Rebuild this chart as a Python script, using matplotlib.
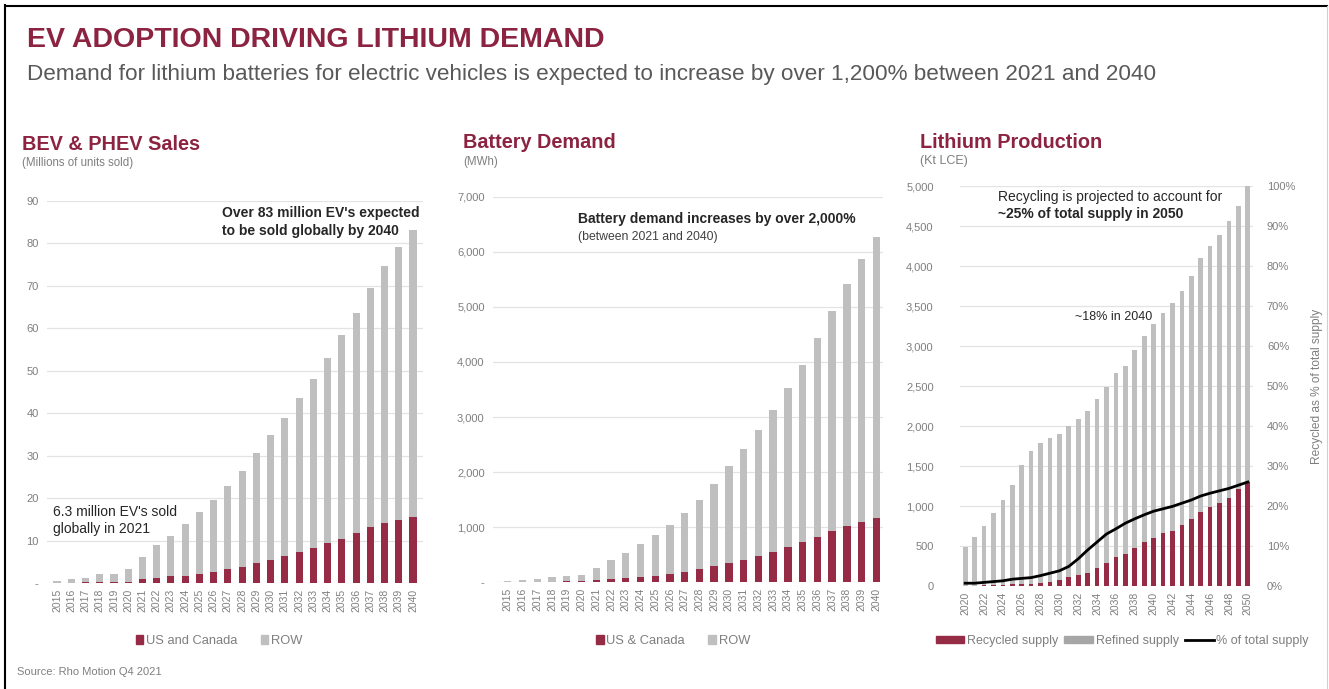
import numpy as np
import matplotlib
matplotlib.use("Agg")
import matplotlib.pyplot as plt
from matplotlib.patches import Patch
from matplotlib.lines import Line2D
from matplotlib.ticker import FuncFormatter

plt.rcParams['font.family'] = ['Liberation Sans', 'DejaVu Sans']

# BEV & PHEV sales (millions of units)
ev_years = list(range(2015, 2041))
ev_us = [0.1, 0.1, 0.2, 0.2, 0.3, 0.4, 1.0, 1.2, 1.6, 1.8, 2.2, 2.7, 3.3, 3.9, 4.7, 5.5,
         6.4, 7.4, 8.4, 9.4, 10.4, 11.8, 13.2, 14.3, 14.9, 15.5]
ev_row = [0.4, 0.8, 1.1, 1.9, 1.9, 2.9, 5.3, 7.7, 9.6, 12.2, 14.6, 17.0, 19.6, 22.6, 25.9, 29.5,
          32.6, 36.1, 39.6, 43.5, 48.0, 51.9, 56.3, 60.4, 64.3, 67.6]

# battery demand (MWh)
bat_years = list(range(2015, 2041))
bat_us = [3, 5, 8, 12, 15, 20, 42, 60, 85, 97, 115, 151, 194, 236, 290, 345,
          405, 478, 556, 635, 726, 829, 938, 1028, 1101, 1174]
bat_row = [22, 35, 52, 78, 100, 120, 224, 345, 441, 593, 744, 889, 1058, 1258, 1495, 1772,
           2021, 2287, 2572, 2886, 3219, 3600, 3987, 4387, 4767, 5100]

# lithium production (kt LCE)
li_years = list(range(2020, 2051))
li_refined = [492, 617, 750, 908, 1075, 1262, 1512, 1687, 1792, 1846, 1896, 2000, 2083, 2192, 2333, 2483,
              2658, 2750, 2950, 3129, 3275, 3417, 3542, 3692, 3875, 4096, 4250, 4383, 4562, 4750, 5000]
li_recycled = [5, 5, 8, 10, 15, 20, 25, 30, 40, 55, 75, 108, 137, 167, 220, 283,
               358, 400, 479, 554, 596, 658, 692, 762, 833, 929, 983, 1033, 1104, 1208, 1304]
li_pct = [0.7, 0.7, 0.9, 1.1, 1.3, 1.7, 1.9, 2.1, 2.6, 3.2, 3.8, 4.9, 6.8, 9.0, 11.0, 13.0,
          14.3, 15.7, 16.8, 17.8, 18.7, 19.3, 19.9, 20.7, 21.5, 22.5, 23.2, 23.8, 24.4, 25.2, 26.0]

RED = '#962B46'
GREY = '#BFBFBF'
TXT = '#7F7F7F'
DARK = '#262626'
TITLE = '#8C2340'
W, H = 1329, 689

fig = plt.figure(figsize=(W / 100, H / 100), dpi=100)

def fx(px):
    return px / W

def fy(py):
    return 1 - py / H

def style(ax):
    for s in ax.spines.values():
        s.set_visible(False)
    ax.tick_params(length=0, labelsize=8, labelcolor=TXT, pad=6)
    ax.tick_params(axis='x', labelsize=7.5, rotation=90, pad=4)
    ax.grid(axis='y', color='#E3E3E3', lw=0.9)
    ax.set_axisbelow(True)

dash0 = FuncFormatter(lambda v, p: '-' if v == 0 else f'{v:,.0f}')

# frame
fig.add_artist(Line2D([fx(5), fx(5)], [fy(5), fy(689)], color='black', lw=1.5))
fig.add_artist(Line2D([fx(5), fx(1327)], [fy(6), fy(6)], color='black', lw=1.5))
fig.add_artist(Line2D([fx(1327), fx(1327)], [fy(6), fy(689)], color='#D0D0D0', lw=0.8))

fig.text(fx(27), fy(47), 'EV ADOPTION DRIVING LITHIUM DEMAND', fontsize=20.5, fontweight='bold',
         color=TITLE, va='baseline')
fig.text(fx(27), fy(80), 'Demand for lithium batteries for electric vehicles is expected to increase by over 1,200% between 2021 and 2040',
         fontsize=16.2, color='#595959', va='baseline')

# ---- BEV & PHEV sales
ax1 = fig.add_axes([fx(47), fy(583.3), fx(423 - 47), (583.3 - 200.7) / H])
x = np.arange(len(ev_years))
ax1.bar(x, ev_us, 0.5, color=RED)
ax1.bar(x, ev_row, 0.5, bottom=ev_us, color=GREY)
ax1.set_xlim(-0.7, len(x) - 0.3)
ax1.set_ylim(0, 90)
ax1.set_yticks(range(0, 91, 10))
ax1.yaxis.set_major_formatter(dash0)
ax1.set_xticks(x, [str(y) for y in ev_years])
style(ax1)
ax1.text(0.465, 0.985, "Over 83 million EV's expected\nto be sold globally by 2040", transform=ax1.transAxes,
         fontsize=10, fontweight='bold', color=DARK, va='top', linespacing=1.3)
ax1.text(0.015, 0.205, "6.3 million EV's sold\nglobally in 2021", transform=ax1.transAxes,
         fontsize=10, color=DARK, va='top', linespacing=1.3)
ax1.legend(handles=[Patch(color=RED, label='US and Canada'), Patch(color=GREY, label='ROW')],
           loc='center', bbox_to_anchor=(fx(219), fy(641)), bbox_transform=fig.transFigure, ncol=2,
           frameon=False, fontsize=9.3, labelcolor=TXT, handlelength=0.6, handleheight=0.6,
           handletextpad=0.2, columnspacing=1.8)
fig.text(fx(22), fy(150), 'BEV & PHEV Sales', fontsize=14.3, fontweight='bold', color=TITLE, va='baseline')
fig.text(fx(22), fy(166), '(Millions of units sold)', fontsize=8.3, color=TXT, va='baseline')

# ---- battery demand
ax2 = fig.add_axes([fx(493), fy(582.3), fx(883 - 493), (582.3 - 196.7) / H])
x = np.arange(len(bat_years))
ax2.bar(x, bat_us, 0.5, color=RED)
ax2.bar(x, bat_row, 0.5, bottom=bat_us, color=GREY)
ax2.set_xlim(-1.0, len(x) - 0.55)
ax2.set_ylim(0, 7000)
ax2.set_yticks(range(0, 7001, 1000))
ax2.yaxis.set_major_formatter(dash0)
ax2.set_xticks(x, [str(y) for y in bat_years])
style(ax2)
ax2.text(0.218, 0.96, 'Battery demand increases by over 2,000%', transform=ax2.transAxes,
         fontsize=10, fontweight='bold', color=DARK, va='top')
ax2.text(0.218, 0.912, '(between 2021 and 2040)', transform=ax2.transAxes,
         fontsize=8.8, color='#404040', va='top')
ax2.legend(handles=[Patch(color=RED, label='US & Canada'), Patch(color=GREY, label='ROW')],
           loc='center', bbox_to_anchor=(fx(673), fy(641)), bbox_transform=fig.transFigure, ncol=2,
           frameon=False, fontsize=9.3, labelcolor=TXT, handlelength=0.6, handleheight=0.6,
           handletextpad=0.2, columnspacing=1.8)
fig.text(fx(463), fy(148), 'Battery Demand', fontsize=14.3, fontweight='bold', color=TITLE, va='baseline')
fig.text(fx(463), fy(165), '(MWh)', fontsize=8.3, color=TXT, va='baseline')

# ---- lithium production
ax3 = fig.add_axes([fx(960), fy(586), fx(1253 - 960), 400 / H])
x = np.arange(len(li_years))
ax3.bar(x, li_refined, 0.5, color=GREY)
ax3.bar(x, li_recycled, 0.5, color=RED)
ax3.set_xlim(-0.55, len(x) - 0.45)
ax3.set_ylim(0, 5000)
ax3.set_yticks(range(0, 5001, 500))
ax3.yaxis.set_major_formatter(FuncFormatter(lambda v, p: f'{v:,.0f}'))
ax3.set_xticks(x[::2], [str(y) for y in li_years[::2]])
style(ax3)
ax3.tick_params(axis='y', pad=19)
ax3b = ax3.twinx()
ax3b.plot(x, li_pct, color='black', lw=2)
ax3b.set_ylim(0, 100)
ax3b.set_yticks(range(0, 101, 10))
ax3b.yaxis.set_major_formatter(FuncFormatter(lambda v, p: f'{v:.0f}%'))
for s in ax3b.spines.values():
    s.set_visible(False)
ax3b.tick_params(length=0, labelsize=8, labelcolor=TXT, pad=10)
ax3b.set_ylabel('Recycled as % of total supply', fontsize=8.6, color=TXT, labelpad=11)
ax3.text(0.128, 0.99, 'Recycling is projected to account for', transform=ax3.transAxes,
         fontsize=10, color=DARK, va='top')
ax3.text(0.128, 0.947, '~25% of total supply in 2050', transform=ax3.transAxes,
         fontsize=10, fontweight='bold', color=DARK, va='top')
ax3.text(x[20] - 0.15, li_refined[20] + 15, '~18% in 2040', fontsize=9, color=DARK, ha='right', va='bottom')
ax3.legend(handles=[Patch(color=RED, label='Recycled supply'), Patch(color='#A6A6A6', label='Refined supply'),
                    Line2D([], [], color='black', lw=2, label='% of total supply')],
           loc='center', bbox_to_anchor=(fx(1122), fy(641)), bbox_transform=fig.transFigure, ncol=3,
           frameon=False, fontsize=9, labelcolor=TXT, handlelength=2.3, handleheight=0.45,
           handletextpad=0.2, columnspacing=0.5)
fig.text(fx(920), fy(148), 'Lithium Production', fontsize=14.3, fontweight='bold', color=TITLE, va='baseline')
fig.text(fx(920), fy(164), '(Kt LCE)', fontsize=9, color=TXT, va='baseline')

fig.text(fx(17), fy(675), 'Source: Rho Motion Q4 2021', fontsize=8, color=TXT, va='baseline')

fig.savefig('out.png', dpi=100, facecolor='white')
